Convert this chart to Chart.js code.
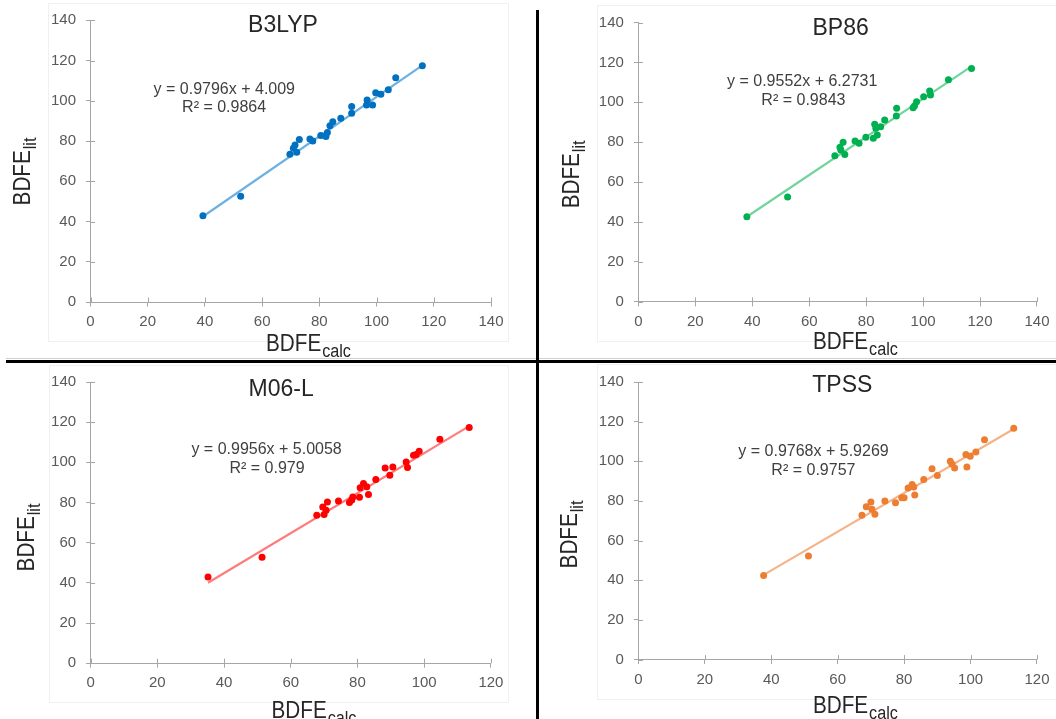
<!DOCTYPE html>
<html>
<head>
<meta charset="utf-8">
<script src="https://cdn.jsdelivr.net/npm/chart.js@4.4.1/dist/chart.umd.min.js"></script>
<style>
  html, body { margin: 0; padding: 0; background: #fff; }
  #wrap { position: relative; width: 1056px; height: 719px; overflow: hidden; background: #fff; }
  canvas { position: absolute; }
  .frame { position: absolute; border: 1px solid #f0f0f0; box-sizing: border-box; }
  .bar { position: absolute; background: #000; }
</style>
</head>
<body>
<div id="wrap">
  <div class="frame" style="left:48px;top:3px;width:461px;height:339px"></div>
  <div class="frame" style="left:597px;top:5px;width:470px;height:337px"></div>
  <div class="frame" style="left:49px;top:365px;width:460px;height:338px"></div>
  <div class="frame" style="left:597px;top:364px;width:470px;height:336px"></div>

  <canvas id="c1" width="537" height="360" style="left:0;top:0"></canvas>
  <canvas id="c2" width="519" height="360" style="left:537px;top:0"></canvas>
  <canvas id="c3" width="537" height="356" style="left:0;top:363px"></canvas>
  <canvas id="c4" width="519" height="356" style="left:537px;top:363px"></canvas>

  <div class="bar" style="left:6px;top:358px;width:1050px;height:1px;background:#d0d0d0"></div>
  <div class="bar" style="left:6px;top:360px;width:1050px;height:3px"></div>
  <div class="bar" style="left:536px;top:10px;width:3px;height:709px"></div>
</div>
<script>
// datos (BDFE calc vs BDFE lit)
const methods = ['B3LYP', 'BP86', 'M06-L', 'TPSS'];

const b3lypCalc = [39.3, 52.5, 69.7, 70.9, 71.5, 72.1, 73.0, 76.7, 77.7, 80.5, 82.3, 82.8, 83.7, 84.7, 87.5, 91.3, 91.3, 96.5, 96.7, 98.6, 99.7, 101.5, 104.1, 106.7, 116.0];
const b3lypLit  = [42.9, 52.6, 73.4, 76.4, 78.0, 74.4, 80.7, 81.0, 80.0, 82.7, 82.2, 84.3, 87.6, 89.6, 91.3, 93.8, 97.1, 97.9, 100.4, 97.9, 104.0, 103.2, 105.5, 111.5, 117.4];

const bp86Calc = [38.1, 52.4, 69.0, 70.8, 71.1, 71.9, 72.5, 76.1, 77.5, 79.9, 82.5, 83.0, 83.4, 83.9, 85.1, 86.5, 90.6, 90.7, 96.5, 97.0, 97.7, 100.2, 102.3, 102.6, 108.9, 117.0];
const bp86Lit  = [42.7, 52.6, 73.2, 77.5, 76.1, 80.0, 73.9, 80.6, 79.5, 82.5, 82.0, 89.0, 87.0, 83.6, 87.8, 91.1, 93.1, 97.0, 97.3, 98.3, 100.3, 102.8, 105.7, 103.7, 111.3, 117.0];

const m06lCalc = [35.2, 51.4, 67.8, 69.6, 70.0, 70.6, 71.0, 74.3, 77.6, 78.3, 78.6, 80.6, 80.8, 81.8, 82.8, 83.3, 85.5, 88.3, 89.7, 90.6, 94.6, 95.0, 96.8, 97.6, 98.5, 104.7, 113.5];
const m06lLit  = [42.9, 52.8, 73.7, 77.8, 74.0, 76.2, 80.3, 80.8, 80.0, 81.2, 82.8, 82.6, 87.3, 89.5, 87.8, 84.0, 91.4, 97.2, 93.6, 97.7, 100.2, 97.4, 103.5, 103.9, 105.5, 111.5, 117.3];

const tpssCalc = [37.7, 51.2, 67.3, 68.6, 70.0, 70.3, 71.2, 74.2, 77.4, 79.3, 80.0, 81.2, 82.4, 82.9, 83.2, 85.9, 88.4, 90.0, 93.9, 94.4, 95.2, 98.6, 98.9, 99.9, 101.6, 104.2, 113.0];
const tpssLit  = [42.4, 52.3, 72.8, 77.1, 79.5, 75.8, 73.3, 80.0, 79.1, 81.6, 81.6, 86.6, 88.3, 87.1, 83.0, 90.8, 96.3, 92.8, 100.0, 98.6, 96.6, 103.4, 97.1, 102.5, 104.7, 110.9, 116.7];

// linea de tendencia (ecuacion mostrada en cada panel)
const slopes     = [0.9796, 0.9552, 0.9956, 0.9768];
const intercepts = [4.009, 6.2731, 5.0058, 5.9269];
const r2Labels   = ['0.9864', '0.9843', '0.979', '0.9757'];
const xMaxes     = [140, 140, 120, 120];
const yMax = 140;

const FONT = "'Liberation Sans', Arial, sans-serif";

// posiciones de cada panel (coordenadas de pagina)
const panels = [
    { id: 'c1', left: 0, top: 0, calc: b3lypCalc, lit: b3lypLit, dot: '#0070c0', line: '#6db0e2',
      yw: 90.5, padTop: 20.3, padRight: 46, xh: 58,
      title: [283, 24.2], eq1: [224.3, 88.2], eq2: [224.1, 106.5], xt: [308.5, 342.8], yt: [21.3, 171.5] },
    { id: 'c2', left: 537, top: 0, calc: bp86Calc, lit: bp86Lit, dot: '#00b050', line: '#6fd59a',
      yw: 101.4, padTop: 22.5, padRight: 17.4, xh: 58.1,
      title: [840.6, 26.8], eq1: [802.2, 80.5], eq2: [803.4, 99.3], xt: [855.4, 340.5], yt: [571, 174.4] },
    { id: 'c3', left: 0, top: 363, calc: m06lCalc, lit: m06lLit, dot: '#ff0000', line: '#ff7b7b',
      yw: 90.6, padTop: 18.6, padRight: 46.1, xh: 55.8,
      title: [281.1, 387.9], eq1: [266.6, 448.6], eq2: [267, 467.5], xt: [314, 709.3], yt: [26.2, 537.5] },
    { id: 'c4', left: 537, top: 363, calc: tpssCalc, lit: tpssLit, dot: '#ed7d31', line: '#f5b387',
      yw: 101.4, padTop: 17.1, padRight: 17.4, xh: 59.4,
      title: [842.3, 383.8], eq1: [813.5, 449.9], eq2: [813.4, 469], xt: [855.4, 704.7], yt: [569, 534.5] }
];

function capText(ctx, text, x, capY, size, color) {
    ctx.font = size + 'px ' + FONT;
    ctx.fillStyle = color;
    ctx.textAlign = 'center';
    ctx.textBaseline = 'alphabetic';
    ctx.fillText(text, x, capY + size * 0.358);
}

function subTitle(ctx, main, sub, x, capY, rotate) {
    ctx.save();
    ctx.translate(x, capY);
    if (rotate) ctx.rotate(-Math.PI / 2);
    ctx.scale(0.9, 1);
    ctx.font = '23px ' + FONT;
    const wm = ctx.measureText(main).width;
    ctx.font = '18px ' + FONT;
    const ws = ctx.measureText(sub).width;
    const x0 = -(wm + ws + 1) / 2;
    const base = 23 * 0.358;
    ctx.fillStyle = '#262626';
    ctx.textAlign = 'left';
    ctx.textBaseline = 'alphabetic';
    ctx.font = '23px ' + FONT;
    ctx.fillText(main, x0, base);
    ctx.font = '18px ' + FONT;
    ctx.fillText(sub, x0 + wm + 1, base + 6);
    ctx.restore();
}

panels.forEach((p, i) => {
    const pts = p.calc.map((v, k) => ({ x: v, y: p.lit[k] }));
    const x0 = Math.min(...p.calc), x1 = Math.max(...p.calc);
    const trend = [x0, x1].map(v => ({ x: v, y: slopes[i] * v + intercepts[i] }));

    // marcas de eje cruzadas (estilo Excel) + textos
    const decor = {
        id: 'decor' + i,
        afterDraw(chart) {
            const ctx = chart.ctx;
            const a = chart.chartArea;
            const xs = chart.scales.x, ys = chart.scales.y;
            ctx.save();
            ctx.strokeStyle = '#a6a6a6';
            ctx.lineWidth = 1;
            ctx.beginPath();
            xs.ticks.forEach(t => {
                const px = Math.round(xs.getPixelForValue(t.value)) + 0.5;
                ctx.moveTo(px, a.bottom);
                ctx.lineTo(px, a.bottom - 4.5);
            });
            ys.ticks.forEach(t => {
                const py = Math.round(ys.getPixelForValue(t.value)) + 0.5;
                ctx.moveTo(a.left, py);
                ctx.lineTo(a.left + 4.5, py);
            });
            ctx.stroke();
            ctx.restore();

            const ox = p.left, oy = p.top;
            capText(ctx, methods[i], p.title[0] - ox, p.title[1] - oy, 23, '#262626');
            capText(ctx, 'y = ' + slopes[i] + 'x + ' + intercepts[i], p.eq1[0] - ox, p.eq1[1] - oy, 16, '#404040');
            capText(ctx, 'R\u00b2 = ' + r2Labels[i], p.eq2[0] - ox, p.eq2[1] - oy, 16, '#404040');
            subTitle(ctx, 'BDFE', 'calc', p.xt[0] - ox, p.xt[1] - oy, false);
            subTitle(ctx, 'BDFE', 'lit', p.yt[0] - ox, p.yt[1] - oy, true);
        }
    };

    new Chart(document.getElementById(p.id).getContext('2d'), {
        type: 'scatter',
        data: {
            datasets: [
                {
                    data: pts,
                    backgroundColor: p.dot,
                    borderColor: p.dot,
                    borderWidth: 0,
                    pointRadius: 3.5
                },
                {
                    data: trend,
                    showLine: true,
                    borderColor: p.line,
                    borderWidth: 2.2,
                    pointRadius: 0
                }
            ]
        },
        options: {
            responsive: false,
            animation: false,
            devicePixelRatio: 1,
            layout: { padding: { left: 0, top: p.padTop, right: p.padRight, bottom: 0 } },
            plugins: { legend: { display: false }, tooltip: { enabled: false } },
            scales: {
                x: {
                    type: 'linear',
                    min: 0,
                    max: xMaxes[i],
                    afterFit: s => { s.height = p.xh; },
                    ticks: { stepSize: 20, color: '#595959', font: { family: FONT, size: 15 }, padding: 6.5, maxRotation: 0, autoSkip: false },
                    grid: { drawOnChartArea: false, drawTicks: true, tickLength: 4.5, color: '#a6a6a6' },
                    border: { color: '#a6a6a6', width: 1 },
                    title: { display: false }
                },
                y: {
                    type: 'linear',
                    min: 0,
                    max: yMax,
                    afterFit: s => { s.width = p.yw; },
                    ticks: { stepSize: 20, color: '#595959', font: { family: FONT, size: 15 }, padding: 10, autoSkip: false },
                    grid: { drawOnChartArea: false, drawTicks: true, tickLength: 4.5, color: '#a6a6a6' },
                    border: { color: '#a6a6a6', width: 1 },
                    title: { display: false }
                }
            }
        },
        plugins: [decor]
    });
});
</script>
</body>
</html>
